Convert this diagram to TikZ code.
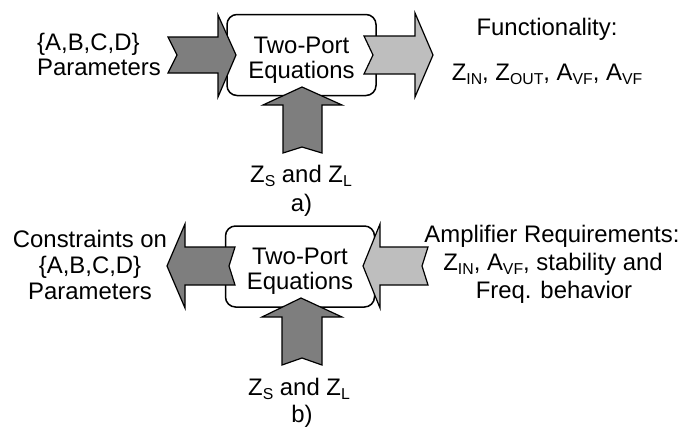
\documentclass[tikz,border=0pt]{standalone}
\usepackage{fontspec}
\setmainfont{Liberation Sans}
\newcommand\sbs[1]{\raisebox{-4.5pt}{\fontsize{15.8pt}{15.8pt}\selectfont #1}}
\definecolor{darkfill}{HTML}{7E7E7E}
\definecolor{lightfill}{HTML}{BEBEBE}
\begin{document}
\begin{tikzpicture}[x=1pt,y=-1pt,
  box/.style={draw, line width=1.5pt, rounded corners=10pt, minimum width=149pt, minimum height=81pt, inner sep=0pt},
  darkarrow/.style={draw, line width=1.2pt, fill=darkfill, line join=miter},
  lightarrow/.style={draw, line width=1.2pt, fill=lightfill, line join=miter},
  txt/.style={font=\fontsize{23.9pt}{27pt}\selectfont, inner sep=0pt, anchor=base}]
\useasboundingbox (0,0) rectangle (683,437);

% ---------- panel a ----------
\node[box] (boxa) at (301.5,55) {};
\node[txt] (tpa) at (301.5,53) {Two-Port};
\node[txt] (eqa) at (301.5,78) {Equations};

\draw[darkarrow] (168,37) -- (218,37) -- (218,15) -- (236,55) -- (218,97)
  -- (218,73) -- (168,73) -- (177,55) -- cycle;
\draw[lightarrow] (364,36) -- (415,36) -- (415,13) -- (433,55) -- (415,97)
  -- (415,74) -- (364,74) -- (373,55) -- cycle;
\draw[darkarrow] (302,87) -- (342,105) -- (322,105) -- (322,153) -- (302,147)
  -- (283,153) -- (283,105) -- (263,105) -- cycle;

\node[txt, anchor=base west] (abcda) at (37,50) {\{A,B,C,D\}};
\node[txt, anchor=base west] (para) at (37,75) {Parameters};
\node[txt] (func) at (547,35) {Functionality:};
\node[txt] (zlist) at (547,80) {Z\sbs{IN}, Z\sbs{OUT}, A\sbs{VF}, A\sbs{VF}};
\node[txt] (zsa) at (301,182) {Z\sbs{S} and Z\sbs{L}};
\node[txt] (capa) at (301.5,211) {a)};

% ---------- panel b ----------
\node[box] (boxb) at (300,266.5) {};
\node[txt] (tpb) at (300,264) {Two-Port};
\node[txt] (eqb) at (300,289) {Equations};

\draw[darkarrow] (167,266) -- (185,224) -- (185,247) -- (235,247) -- (229,266)
  -- (235,285) -- (185,285) -- (185,308) -- cycle;
\draw[lightarrow] (363,266) -- (380,224) -- (380,247) -- (428,247) -- (422,266)
  -- (428,285) -- (380,285) -- (380,308) -- cycle;
\draw[darkarrow] (301,298) -- (342,317) -- (322,317) -- (322,365) -- (302,358)
  -- (282,365) -- (282,317) -- (262,317) -- cycle;

\node[txt] (cons) at (90,247) {Constraints on};
\node[txt] (abcdb) at (90,273) {\{A,B,C,D\}};
\node[txt] (parb) at (90,299) {Parameters};
\node[txt] (amp) at (552,242) {Amplifier Requirements:};
\node[txt] (req) at (553,270) {Z\sbs{IN}, A\sbs{VF}, stability and};
\node[txt] (freq) at (554,298) {Freq. behavior};
\node[txt] (zsb) at (299,395) {Z\sbs{S} and Z\sbs{L}};
\node[txt] (capb) at (302,422) {b)};
\end{tikzpicture}
\end{document}
